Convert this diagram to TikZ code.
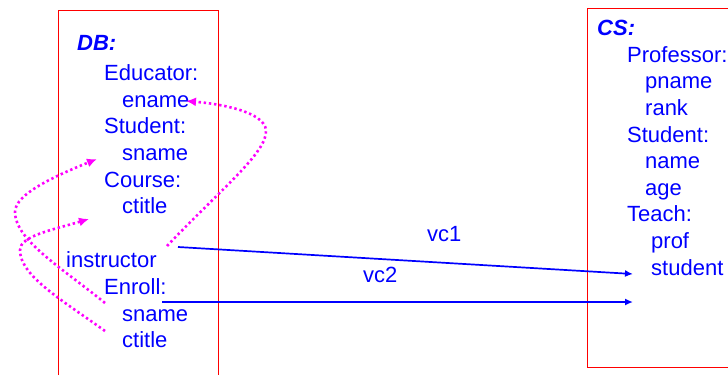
\documentclass[tikz,border=0pt]{standalone}
\usepackage{fontspec}
\setmainfont{Liberation Sans}
\usetikzlibrary{arrows.meta}
\definecolor{tblue}{RGB}{0,0,255}
\definecolor{tmag}{RGB}{255,0,255}
\begin{document}
\begin{tikzpicture}[x=1pt,y=-1pt,
  txt/.style={anchor=base west,inner sep=0pt,text=tblue,font=\fontsize{22}{26}\selectfont},
  hdr/.style={txt,font=\fontsize{22}{26}\selectfont\bfseries\itshape},
  boxline/.style={draw=red,line width=1pt},
  vcarrow/.style={draw=tblue,line width=1.7pt,-{Latex[length=8pt,width=7pt]}},
  link/.style={draw=tmag,line width=2.6pt,dash pattern=on 2.4pt off 2.8pt,-{Latex[length=10pt,width=9pt]}}]
\useasboundingbox (0,0) rectangle (728,375);
% boxes
\draw[boxline] (58,375) -- (58,10) -- (218,10) -- (218,375);
\draw[boxline] (728,8) -- (587,8) -- (587,367) -- (728,367);
% left schema
\node[hdr] (db) at (77,50) {DB:};
\node[txt] (educ) at (104,80) {Educator:};
\node[txt] (ename) at (122,107) {ename};
\node[txt] (stud) at (104,133) {Student:};
\node[txt] (sname) at (122,160) {sname};
\node[txt] (course) at (104,187) {Course:};
\node[txt] (ctitle) at (122,213) {ctitle};
\node[txt] (instr) at (66,267) {instructor};
\node[txt] (enroll) at (104,294) {Enroll:};
\node[txt] (esname) at (122,321) {sname};
\node[txt] (ectitle) at (122,347) {ctitle};
% right schema
\node[hdr] (cs) at (597,35) {CS:};
\node[txt] (prof) at (627,62) {Professor:};
\node[txt] (pname) at (645,88) {pname};
\node[txt] (rank) at (645,115) {rank};
\node[txt] (cstud) at (627,142) {Student:};
\node[txt] (name) at (645,168) {name};
\node[txt] (age) at (645,195) {age};
\node[txt] (teach) at (627,221) {Teach:};
\node[txt] (tprof) at (651,248) {prof};
\node[txt] (tstud) at (651,275) {student};
% labels
\node[txt] (vc1) at (427,241) {vc1};
\node[txt] (vc2) at (363,282) {vc2};
% connector ends
\coordinate (vc1s) at (178,247);
\coordinate (vc1e) at (633,274);
\coordinate (vc2s) at (162,302);
\coordinate (vc2e) at (633,302);
\coordinate (l1s) at (167,246);
\coordinate (l1m) at (266,130);
\coordinate (l1e) at (186,101);
\coordinate (l2s) at (105,303);
\coordinate (l2m) at (15,212);
\coordinate (l2e) at (97,159);
\coordinate (l3s) at (105,331);
\coordinate (l3m) at (20,250);
\coordinate (l3e) at (89,219);
% value correspondences
\draw[vcarrow] (vc1s) -- (vc1e);
\draw[vcarrow] (vc2s) -- (vc2e);
% links
\draw[link] (l1s) .. controls (220,190) and (268,152) .. (l1m) .. controls (264,112) and (222,104) .. (l1e);
\draw[link] (l2s) .. controls (62,268) and (15,240) .. (l2m) .. controls (15,194) and (55,176) .. (l2e);
\draw[link] (l3s) .. controls (62,300) and (20,276) .. (l3m) .. controls (20,236) and (52,230) .. (l3e);
\end{tikzpicture}
\end{document}
